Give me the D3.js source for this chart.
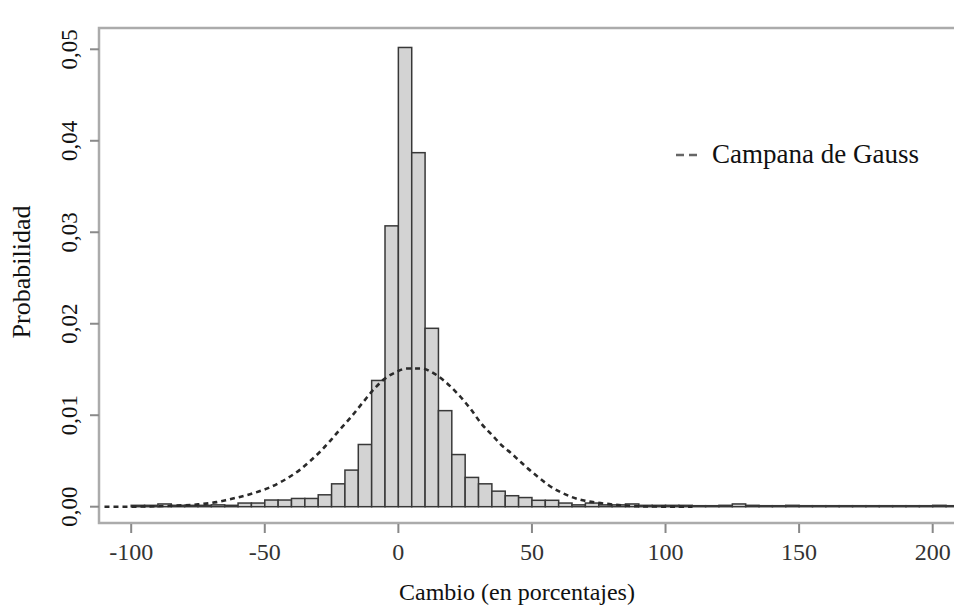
<!DOCTYPE html>
<html>
<head>
<meta charset="utf-8">
<script src="https://cdn.jsdelivr.net/npm/d3@7"></script>
<style>
  body { margin: 0; background: #fff; }
  svg { display: block; font-family: "Liberation Serif", "Times New Roman", serif; }
</style>
</head>
<body>
<svg width="954" height="609" viewBox="0 0 954 609"></svg>
<script>
// histogram bins (left edge, width 5) and probability per bin
const bin_width = 5;
const bin_starts = [
  -100, -95, -90, -85, -80, -75, -70, -65, -60, -55,
  -50, -45, -40, -35, -30, -25, -20, -15, -10, -5,
  0, 5, 10, 15, 20, 25, 30, 35, 40, 45,
  50, 55, 60, 65, 70, 75, 80, 85, 90, 95,
  100, 105, 110, 115, 120, 125, 130, 135, 140, 145,
  150, 155, 160, 165, 170, 175, 180, 185, 190, 195,
  200, 205
];
const bin_values = [
  0.00015, 0.00015, 0.0003, 0.00015, 0.00015, 0.00015, 0.0002, 0.00015, 0.0004, 0.0004,
  0.00073, 0.00073, 0.0009, 0.0009, 0.0013, 0.0025, 0.004, 0.0068, 0.0138, 0.0307,
  0.0502, 0.0387, 0.0195, 0.0105, 0.0057, 0.0032, 0.0025, 0.0017, 0.0012, 0.001,
  0.0007, 0.0007, 0.0004, 0.0002, 0.0004, 0.0002, 0.0002, 0.0003, 0.00015, 0.00015,
  0.00015, 0.00015, 0, 0, 0.00015, 0.0003, 0.00015, 0, 0, 0.00015,
  0, 0, 0, 0, 0, 0, 0, 0, 0, 0,
  0.00015, 0
];

// dashed "Campana de Gauss" curve
const gauss_x = [
  -110, -104, -95, -85, -75, -68, -64, -59, -54, -49, -44, -40.5, -37, -33, -29, -25.5,
  -22, -18, -13, -9, -5.5, -1, 3, 9, 12.5, 17, 22, 27, 31, 35.5, 38, 42, 45, 48,
  52.5, 56, 60, 64.5, 69, 74, 79, 85, 95, 110
];
const gauss_y = [
  0, 0, 0.00002, 0.0001, 0.00025, 0.0005, 0.00075, 0.0011, 0.0015, 0.002, 0.0027, 0.0033,
  0.004, 0.005, 0.0061, 0.0072, 0.0084, 0.0097, 0.0115, 0.0129, 0.0139, 0.0147, 0.0151,
  0.0151, 0.0147, 0.0138, 0.0124, 0.0107, 0.0091, 0.0077, 0.0069, 0.0059, 0.0051, 0.0043,
  0.0032, 0.0024, 0.0017, 0.0011, 0.0007, 0.00045, 0.00028, 0.00012, 0.00002, 0
];

const x_ticks = [-100, -50, 0, 50, 100, 150, 200];
const y_ticks = [0, 0.01, 0.02, 0.03, 0.04, 0.05];
const fmt = d => d3.format(".2f")(d).replace(".", ",");

const svg = d3.select("svg");

const x = d3.scaleLinear().domain([-100, 200]).range([131.2, 932.7]);
const y = d3.scaleLinear().domain([0, 0.05]).range([506.7, 49.3]);

// frame
svg.append("rect")
  .attr("x", 99).attr("y", 28)
  .attr("width", 880).attr("height", 495)
  .attr("fill", "none")
  .attr("stroke", "#ababab")
  .attr("stroke-width", 2.5);

// bars
const bars = bin_starts.map((s, i) => ({ x0: s, x1: s + bin_width, v: bin_values[i] }));
svg.append("g")
  .selectAll("rect")
  .data(bars)
  .enter()
  .append("rect")
  .attr("x", d => x(d.x0))
  .attr("width", d => x(d.x1) - x(d.x0))
  .attr("y", d => Math.min(y(d.v), y(0) - 1))
  .attr("height", d => Math.max(y(0) - y(d.v), 1))
  .attr("fill", "#d3d3d3")
  .attr("stroke", "#383838")
  .attr("stroke-width", 1.5);

// gauss curve
const line = d3.line()
  .x(d => x(d[0]))
  .y(d => y(d[1]))
  .curve(d3.curveMonotoneX);

svg.append("path")
  .datum(gauss_x.map((g, i) => [g, gauss_y[i]]))
  .attr("d", line)
  .attr("fill", "none")
  .attr("stroke", "#2a2a2a")
  .attr("stroke-width", 2.6)
  .attr("stroke-dasharray", "5,4");

// x axis
const x_axis = svg.append("g").attr("transform", "translate(0,523)");
x_axis.selectAll("line")
  .data(x_ticks)
  .enter()
  .append("line")
  .attr("x1", d => x(d)).attr("x2", d => x(d))
  .attr("y1", 1).attr("y2", 10)
  .attr("stroke", "#888")
  .attr("stroke-width", 2);
x_axis.selectAll("text")
  .data(x_ticks)
  .enter()
  .append("text")
  .attr("x", d => x(d))
  .attr("y", 37)
  .attr("text-anchor", "middle")
  .attr("font-size", 24)
  .attr("fill", "#333")
  .text(d => d);

// y axis
const y_axis = svg.append("g");
y_axis.selectAll("line")
  .data(y_ticks)
  .enter()
  .append("line")
  .attr("x1", 90).attr("x2", 99)
  .attr("y1", d => y(d)).attr("y2", d => y(d))
  .attr("stroke", "#8a8a8a")
  .attr("stroke-width", 2);
y_axis.selectAll("text")
  .data(y_ticks)
  .enter()
  .append("text")
  .attr("transform", d => `translate(77,${y(d)}) rotate(-90)`)
  .attr("text-anchor", "middle")
  .attr("font-size", 23)
  .attr("fill", "#111")
  .text(d => fmt(d));

// axis titles
svg.append("text")
  .attr("x", 517).attr("y", 600)
  .attr("text-anchor", "middle")
  .attr("font-size", 24)
  .attr("fill", "#111")
  .text("Cambio (en porcentajes)");

svg.append("text")
  .attr("transform", "translate(30,272) rotate(-90)")
  .attr("text-anchor", "middle")
  .attr("font-size", 26)
  .attr("fill", "#111")
  .text("Probabilidad");

// legend
const legend = svg.append("g").attr("transform", "translate(676,155)");
legend.append("line")
  .attr("x1", 0).attr("x2", 21)
  .attr("y1", 0).attr("y2", 0)
  .attr("stroke", "#666")
  .attr("stroke-width", 2.6)
  .attr("stroke-dasharray", "8,5");
legend.append("text")
  .attr("x", 36).attr("y", 8)
  .attr("font-size", 27)
  .attr("fill", "#111")
  .text("Campana de Gauss");
</script>
</body>
</html>
